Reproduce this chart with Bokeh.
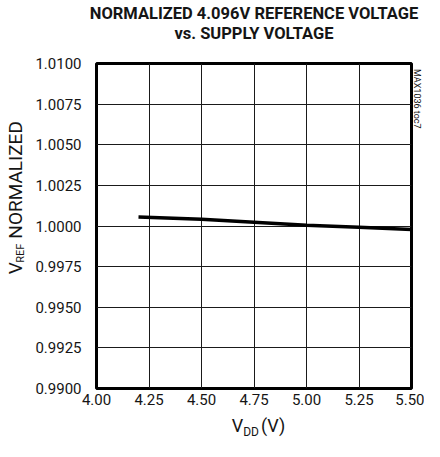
import math
from bokeh.plotting import figure
from bokeh.models import LinearAxis, FixedTicker, NumeralTickFormatter, Range1d
from bokeh.embed import file_html
from bokeh.resources import INLINE

# ---- data ----
vdd = [4.2, 4.5, 4.75, 5.0, 5.25, 5.5]
vref_norm = [1.00056, 1.00041, 1.00023, 1.00005, 0.99993, 0.99979]
x_ticks = [4.00, 4.25, 4.50, 4.75, 5.00, 5.25, 5.50]
y_ticks = [0.9900, 0.9925, 0.9950, 0.9975, 1.0000, 1.0025, 1.0050, 1.0075, 1.0100]
title_lines = ["NORMALIZED 4.096V REFERENCE VOLTAGE", "vs. SUPPLY VOLTAGE"]
y_label_main, y_label_sub, y_label_rest = "V", "REF", "NORMALIZED"
x_label_main, x_label_sub, x_label_rest = "V", "DD", "(V)"
note = "MAX1036 toc7"

NB = "\u00a0"          # non-breaking space, used to place label pieces along an axis
FONT = "Roboto"
INK = "#151515"

p = figure(width=424, height=441, x_range=Range1d(4.0, 5.5), y_range=Range1d(0.99, 1.01),
           output_backend="svg", toolbar_location=None,
           min_border_left=88, min_border_right=11, min_border_top=60, min_border_bottom=52)
p.background_fill_color = "white"
p.border_fill_color = "white"
p.outline_line_color = "black"
p.outline_line_width = 3


def plain(ax):
    ax.axis_line_color = None
    ax.major_tick_line_color = None
    ax.minor_tick_line_color = None
    ax.major_tick_in = 0
    ax.major_tick_out = 0
    ax.minor_tick_in = 0
    ax.minor_tick_out = 0
    ax.major_label_text_font = FONT
    ax.major_label_text_font_size = "15px"
    ax.major_label_text_color = INK
    ax.axis_label_text_font = FONT
    ax.axis_label_text_font_style = "normal"
    ax.axis_label_text_color = INK


def label_axis(text, size, standoff, style="normal"):
    ax = LinearAxis(ticker=FixedTicker(ticks=[]))
    plain(ax)
    ax.major_label_standoff = 0
    ax.axis_label = text
    ax.axis_label_text_font_size = size
    ax.axis_label_text_font_style = style
    ax.axis_label_standoff = standoff
    return ax


xa = p.xaxis[0]
ya = p.yaxis[0]
plain(xa)
plain(ya)
xa.ticker = FixedTicker(ticks=x_ticks)
ya.ticker = FixedTicker(ticks=y_ticks)
xa.formatter = NumeralTickFormatter(format="0.00")
ya.formatter = NumeralTickFormatter(format="0.0000")
xa.major_label_standoff = 5
ya.major_label_standoff = 15

p.xgrid.ticker = FixedTicker(ticks=x_ticks)
p.ygrid.ticker = FixedTicker(ticks=y_ticks)
for g in (p.xgrid, p.ygrid):
    g.grid_line_color = "#1a1a1a"
    g.grid_line_width = 1

p.line(vdd, vref_norm, line_color="black", line_width=3.5)

# ---- title: two stacked axis labels above the frame ----
p.add_layout(label_axis(title_lines[1], "16.5px", 21, "bold"), "above")
p.add_layout(label_axis(title_lines[0], "16.5px", -2, "bold"), "above")

# ---- y label: V_REF NORMALIZED (subscript as an overlapping second label) ----
ya.axis_label = y_label_sub + NB * 20
ya.axis_label_text_font_size = "11px"
ya.axis_label_standoff = 5
p.add_layout(label_axis(NB * 12 + y_label_main + NB * 5 + y_label_rest, "19px", -15), "left")

# ---- x label: V_DD (V) ----
xa.axis_label = NB * 2 + x_label_main + NB * 4 + x_label_rest
xa.axis_label_text_font_size = "18px"
xa.axis_label_standoff = 7
p.add_layout(label_axis(x_label_sub + NB * 2, "12px", -14), "below")

# ---- side note on the right edge ----
p.add_layout(label_axis(note + NB * 114, "9px", 0), "right")

open("out.html", "w").write(file_html(p, INLINE))
